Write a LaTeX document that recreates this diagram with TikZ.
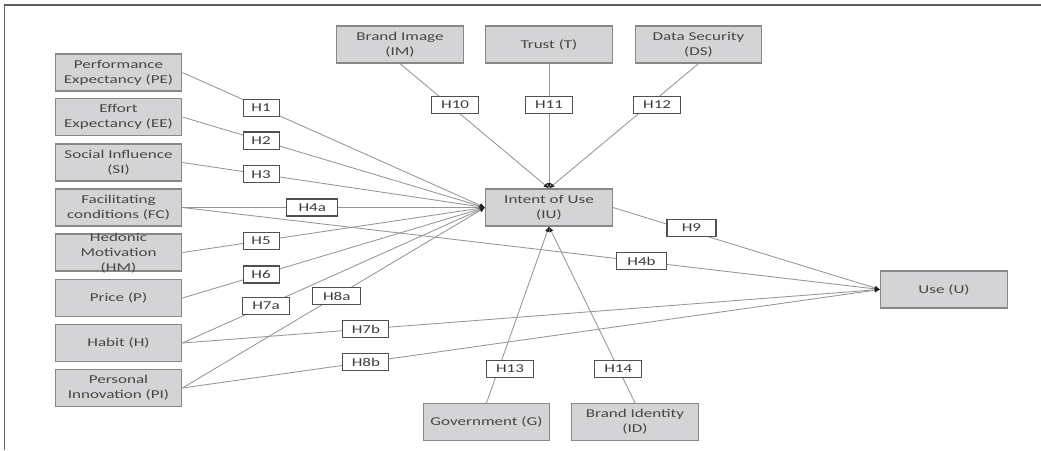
\documentclass[tikz,border=0pt]{standalone}
\usepackage{fontspec}
\setmainfont{Carlito}[FakeStretch=1.42]
\usetikzlibrary{arrows.meta}
\definecolor{boxfill}{RGB}{212,212,214}
\definecolor{boxline}{RGB}{135,135,135}
\definecolor{txtcol}{RGB}{70,70,70}
\definecolor{labtxt}{RGB}{60,60,60}
\definecolor{conncol}{RGB}{150,150,150}
\definecolor{labline}{RGB}{80,80,80}
\definecolor{framecol}{RGB}{95,95,95}
\definecolor{tipcol}{RGB}{35,35,35}
\begin{document}
\begin{tikzpicture}[x=0.75pt,y=-0.75pt,
  box/.style={draw=boxline, line width=0.9pt, fill=boxfill, minimum width=95pt,
    minimum height=27.75pt, inner sep=0pt, align=center, text=txtcol,
    font=\fontsize{9}{11.25}\selectfont},
  boxtext/.style={inner sep=0pt, align=center, text=txtcol,
    font=\fontsize{9}{11.25}\selectfont},
  lab/.style={draw=labline, line width=0.8pt, fill=white, minimum width=27pt,
    minimum height=12.75pt, inner xsep=5pt, inner ysep=0pt, text=labtxt,
    font=\fontsize{9}{10}\selectfont},
  conn/.style={draw=conncol, line width=0.65pt,
    -{Latex[length=4pt,width=3.5pt,color=tipcol]}},
  frameline/.style={draw=framecol, line width=1.1pt}
]
\useasboundingbox (0,0) rectangle (1041,450);
\draw[frameline] (4.5,450) -- (4.5,5) -- (1041,5);

% left column
\node[box] (PE) at (118.5,72.5) {Performance\\Expectancy (PE)};
\node[box] (EE) at (118.5,117) {Effort\\Expectancy (EE)};
\node[box] (SI) at (118.5,162.5) {Social Influence\\(SI)};
\node[box] (FC) at (118.5,207.5) {Facilitating\\conditions (FC)};
\node[box] (HM) at (118.5,252.5) {};
\node[boxtext] (HMt) at (118.5,253) {Hedonic\\Motivation\\(HM)};
\node[box] (P) at (118.5,298) {Price (P)};
\node[box] (H) at (118.5,343) {Habit (H)};
\node[box] (PI) at (118.5,388) {Personal\\Innovation (PI)};

% top row
\node[box] (IM) at (400,44.5) {Brand Image\\(IM)};
\node[box] (T) at (549,44.5) {Trust (T)};
\node[box] (DS) at (698.5,44.5) {Data Security\\(DS)};

% centre and right
\node[box] (IU) at (549,207.5) {Intent of Use\\(IU)};
\node[box] (U) at (944,289.5) {Use (U)};

% bottom
\node[box] (G) at (486.5,422) {Government (G)};
\node[box] (ID) at (635,422) {Brand Identity\\(ID)};

% connectors to IU
\draw[conn] (PE.east) -- coordinate[pos=0.26] (c1) (IU.west);
\draw[conn] (EE.east) -- coordinate[pos=0.26] (c2) (IU.west);
\draw[conn] (SI.east) -- coordinate[pos=0.26] (c3) (IU.west);
\draw[conn] (FC.east) -- coordinate[pos=0.429] (c4a) (IU.west);
\draw[conn] (HM.east) -- coordinate[pos=0.26] (c5) (IU.west);
\draw[conn] (P.east) -- coordinate[pos=0.26] (c6) (IU.west);
\draw[conn] (H.east) -- coordinate[pos=0.276] (c7a) (IU.west);
\draw[conn] (PI.east) -- coordinate[pos=0.51] (c8a) (IU.west);
\draw[conn] (IM.south) -- coordinate[pos=0.33] (c10) (IU.north);
\draw[conn] (T.south) -- coordinate[pos=0.33] (c11) (IU.north);
\draw[conn] (DS.south) -- coordinate[pos=0.33] (c12) (IU.north);
\draw[conn] (G.north) -- coordinate[pos=0.194] (c13) (IU.south);
\draw[conn] (ID.north) -- coordinate[pos=0.194] (c14) (IU.south);

% connectors to U
\draw[conn] (IU.east) -- coordinate[pos=0.294] (c9) (U.west);
\draw[conn] (FC.east) -- coordinate[pos=0.658] (c4b) (U.west);
\draw[conn] (H.east) -- coordinate[pos=0.263] (c7b) (U.west);
\draw[conn] (PI.east) -- coordinate[pos=0.263] (c8b) (U.west);

% hypothesis labels
\node[lab] (l1) at (c1) {H1};
\node[lab] (l2) at (c2) {H2};
\node[lab] (l3) at (c3) {H3};
\node[lab, minimum width=38pt] (l4a) at (c4a) {H4a};
\node[lab] (l5) at (c5) {H5};
\node[lab] (l6) at (c6) {H6};
\node[lab, minimum width=35.25pt] (l7a) at (c7a) {H7a};
\node[lab, minimum width=36pt] (l8a) at (c8a) {H8a};
\node[lab, minimum width=35.25pt, xshift=4.5pt] (l10) at (c10) {H10};
\node[lab, minimum width=35.25pt] (l11) at (c11) {H11};
\node[lab, minimum width=35.25pt, xshift=6pt] (l12) at (c12) {H12};
\node[lab, minimum width=35.25pt, xshift=8.5pt] (l13) at (c13) {H13};
\node[lab, minimum width=35.25pt] (l14) at (c14) {H14};
\node[lab, minimum width=36.75pt, yshift=3pt] (l9) at (c9) {H9};
\node[lab, minimum width=37.5pt] (l4b) at (c4b) {H4b};
\node[lab, minimum width=34.5pt] (l7b) at (c7b) {H7b};
\node[lab, minimum width=34.5pt] (l8b) at (c8b) {H8b};
\end{tikzpicture}
\end{document}
